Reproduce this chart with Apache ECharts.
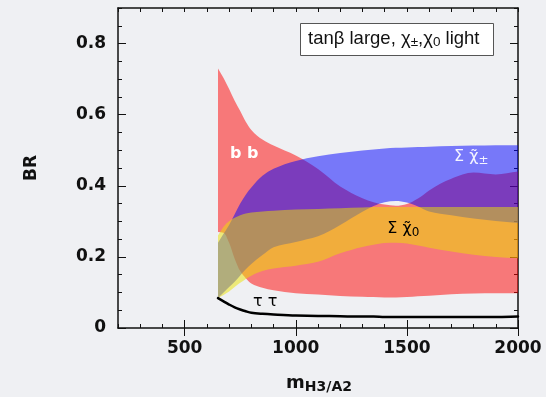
<!DOCTYPE html>
<html>
<head>
<meta charset="utf-8">
<script src="https://cdn.jsdelivr.net/npm/echarts@6/dist/echarts.min.js"></script>
<style>
  html, body { margin: 0; padding: 0; background: #eff0f3; }
  #chart { width: 546px; height: 397px; }
</style>
</head>
<body>
<div id="chart"></div>
<script>
// Heavy Higgs mass grid (GeV)
const masses = [650, 675, 700, 725, 750, 775, 800, 850, 900, 1000, 1100, 1200, 1300, 1350, 1400, 1450, 1500, 1550, 1600, 1700, 1800, 1900, 2000];

// BR(H3/A2 -> b b) band
const bbHigh = [0.73, 0.703, 0.672, 0.639, 0.61, 0.58, 0.557, 0.53, 0.513, 0.485, 0.447, 0.398, 0.365, 0.354, 0.347, 0.344, 0.349, 0.364, 0.387, 0.42, 0.437, 0.432, 0.44];
const bbLow = [0.27, 0.268, 0.24, 0.195, 0.16, 0.14, 0.125, 0.113, 0.106, 0.098, 0.094, 0.09, 0.088, 0.087, 0.086, 0.086, 0.087, 0.089, 0.091, 0.095, 0.097, 0.098, 0.098];

// Sum over chargino pairs
const charginoHigh = [0.24, 0.265, 0.29, 0.32, 0.35, 0.375, 0.395, 0.428, 0.448, 0.47, 0.483, 0.492, 0.499, 0.502, 0.505, 0.507, 0.508, 0.509, 0.51, 0.512, 0.513, 0.514, 0.514];
const charginoLow = [0.084, 0.10, 0.115, 0.13, 0.148, 0.165, 0.18, 0.205, 0.227, 0.242, 0.258, 0.29, 0.327, 0.343, 0.354, 0.357, 0.353, 0.342, 0.328, 0.317, 0.308, 0.301, 0.295];

// Sum over neutralino pairs
const neutralinoHigh = [0.26, 0.285, 0.30, 0.31, 0.317, 0.322, 0.325, 0.328, 0.33, 0.333, 0.335, 0.337, 0.339, 0.34, 0.34, 0.34, 0.34, 0.34, 0.34, 0.34, 0.34, 0.34, 0.34];
const neutralinoLow = [0.084, 0.093, 0.103, 0.115, 0.127, 0.138, 0.147, 0.16, 0.167, 0.175, 0.186, 0.21, 0.228, 0.234, 0.239, 0.24, 0.238, 0.232, 0.226, 0.215, 0.206, 0.20, 0.196];

// BR(H3/A2 -> tau tau)
const tautau = [0.084, 0.075, 0.066, 0.058, 0.052, 0.047, 0.043, 0.040, 0.038, 0.035, 0.034, 0.033, 0.032, 0.032, 0.031, 0.031, 0.031, 0.031, 0.031, 0.031, 0.031, 0.031, 0.032];

// Axis ticks
const xMajorTicks = [500, 1000, 1500, 2000];
const yMajorTicks = [0, 0.2, 0.4, 0.6, 0.8];

// Annotation anchors in data units [mass, BR]
const labelBB = [768, 0.49];
const labelTauTau = [862, 0.073];
const labelChargino = [1790, 0.478];
const labelNeutralino = [1484, 0.275];

const chart = echarts.init(document.getElementById('chart'), null, { renderer: 'canvas' });
const ink = '#111';
const frameLine = { color: ink, width: 1.5 };
const tickLine = { color: ink, width: 1 };
const tickFont = { fontFamily: 'DejaVu Sans', fontWeight: 'bold', fontSize: 17, color: ink,
                   formatter: v => String(v) };

// Monotone cubic (Fritsch-Carlson) segments through pixel points ordered by x
function monotoneSegments(p) {
  const n = p.length, d = [], s = [], t = [];
  for (let i = 0; i < n - 1; i++) {
    d[i] = p[i + 1][0] - p[i][0];
    s[i] = (p[i + 1][1] - p[i][1]) / d[i];
  }
  t[0] = s[0]; t[n - 1] = s[n - 2];
  for (let i = 1; i < n - 1; i++) {
    if (s[i - 1] * s[i] <= 0) t[i] = 0;
    else t[i] = 3 * (d[i - 1] + d[i]) / ((2 * d[i] + d[i - 1]) / s[i - 1] + (d[i] + 2 * d[i - 1]) / s[i]);
  }
  const segs = [];
  for (let i = 0; i < n - 1; i++) {
    segs.push({
      a: p[i], b: p[i + 1],
      c1: [p[i][0] + d[i] / 3, p[i][1] + t[i] * d[i] / 3],
      c2: [p[i + 1][0] - d[i] / 3, p[i + 1][1] - t[i + 1] * d[i] / 3]
    });
  }
  return segs;
}

function f(v) { return v.toFixed(2); }

function bandPath(top, bottom) {
  const up = monotoneSegments(top), lo = monotoneSegments(bottom);
  let path = 'M' + f(top[0][0]) + ' ' + f(top[0][1]);
  up.forEach(g => { path += ' C' + f(g.c1[0]) + ' ' + f(g.c1[1]) + ' ' + f(g.c2[0]) + ' ' + f(g.c2[1]) + ' ' + f(g.b[0]) + ' ' + f(g.b[1]); });
  const last = bottom[bottom.length - 1];
  path += ' L' + f(last[0]) + ' ' + f(last[1]);
  for (let i = lo.length - 1; i >= 0; i--) {
    const g = lo[i];
    path += ' C' + f(g.c2[0]) + ' ' + f(g.c2[1]) + ' ' + f(g.c1[0]) + ' ' + f(g.c1[1]) + ' ' + f(g.a[0]) + ' ' + f(g.a[1]);
  }
  return path + ' Z';
}

function linePath(pts) {
  const segs = monotoneSegments(pts);
  let path = 'M' + f(pts[0][0]) + ' ' + f(pts[0][1]);
  segs.forEach(g => { path += ' C' + f(g.c1[0]) + ' ' + f(g.c1[1]) + ' ' + f(g.c2[0]) + ' ' + f(g.c2[1]) + ' ' + f(g.b[0]) + ' ' + f(g.b[1]); });
  return path;
}

function bandSeries(name, lo, hi, color) {
  return {
    type: 'custom', name: name, coordinateSystem: 'cartesian2d', silent: true,
    data: [[masses[0], lo[0]]],
    renderItem: function (params, api) {
      const top = masses.map((m, i) => api.coord([m, hi[i]]));
      const bottom = masses.map((m, i) => api.coord([m, lo[i]]));
      return { type: 'path', shape: { pathData: bandPath(top, bottom) }, style: { fill: color, stroke: null } };
    }
  };
}

function curveSeries(name, vals, color, width) {
  return {
    type: 'custom', name: name, coordinateSystem: 'cartesian2d', silent: true,
    data: [[masses[0], vals[0]]],
    renderItem: function (params, api) {
      const pts = masses.map((m, i) => api.coord([m, vals[i]]));
      return { type: 'path', shape: { pathData: linePath(pts) },
               style: { fill: null, stroke: color, lineWidth: width, lineJoin: 'round', lineCap: 'round' } };
    }
  };
}

function xAxisPair(pos, withLabels) {
  return [
    { type: 'value', min: 200, max: 2000, interval: 100, position: pos,
      axisLine: { show: true, onZero: false, lineStyle: frameLine },
      axisTick: { show: true, inside: true, length: 4, lineStyle: tickLine },
      axisLabel: { show: false }, splitLine: { show: false } },
    { type: 'value', min: 200, max: 2000, position: pos,
      axisLine: { show: false },
      axisTick: { show: true, inside: true, length: 8, customValues: xMajorTicks, lineStyle: tickLine },
      axisLabel: Object.assign({ show: withLabels, customValues: xMajorTicks, margin: 12 }, tickFont),
      splitLine: { show: false } }
  ];
}

function yAxisPair(pos, withLabels) {
  return [
    { type: 'value', min: 0, max: 0.9, interval: 0.05, position: pos,
      axisLine: { show: true, onZero: false, lineStyle: frameLine },
      axisTick: { show: true, inside: true, length: 4, lineStyle: tickLine },
      axisLabel: { show: false }, splitLine: { show: false } },
    { type: 'value', min: 0, max: 0.9, position: pos,
      axisLine: { show: false },
      axisTick: { show: true, inside: true, length: 8, customValues: yMajorTicks, lineStyle: tickLine },
      axisLabel: Object.assign({ show: withLabels, customValues: yMajorTicks, margin: 12 }, tickFont),
      splitLine: { show: false } }
  ];
}

chart.setOption({
  animation: false,
  backgroundColor: '#eff0f3',
  grid: { left: 118, right: 28, top: 8, bottom: 69, containLabel: false },
  xAxis: [...xAxisPair('bottom', true), ...xAxisPair('top', false)],
  yAxis: [...yAxisPair('left', true), ...yAxisPair('right', false)],
  series: [
    bandSeries('b b', bbLow, bbHigh, 'rgba(255,0,0,0.5)'),
    bandSeries('chargino', charginoLow, charginoHigh, 'rgba(0,0,255,0.5)'),
    bandSeries('neutralino', neutralinoLow, neutralinoHigh, 'rgba(235,225,0,0.5)'),
    curveSeries('tau tau', tautau, '#000', 2.5)
  ]
});

function px(pt) { return chart.convertToPixel({ gridIndex: 0 }, pt); }

const pBB = px(labelBB), pTau = px(labelTauTau), pCh = px(labelChargino), pNe = px(labelNeutralino);

chart.setOption({
  graphic: [
    { type: 'text', z: 50, x: pBB[0], y: pBB[1], silent: true,
      style: { text: 'b b', fill: '#fff', font: 'bold 16px "DejaVu Sans"', align: 'center', verticalAlign: 'middle' } },
    { type: 'text', z: 50, x: pTau[0], y: pTau[1], silent: true,
      style: { text: 'τ τ', fill: '#000', font: '16px "DejaVu Sans"', align: 'center', verticalAlign: 'middle' } },
    { type: 'text', z: 50, x: pCh[0], y: pCh[1], silent: true,
      style: { text: '{a|Σ χ̃}{s|±}', align: 'center', verticalAlign: 'middle',
        rich: {
          a: { fill: '#f4f4ff', fontSize: 16, fontFamily: 'DejaVu Sans', lineHeight: 18, verticalAlign: 'top' },
          s: { fill: '#f4f4ff', fontSize: 12, fontFamily: 'DejaVu Sans', lineHeight: 9, verticalAlign: 'bottom' }
        } } },
    { type: 'text', z: 50, x: pNe[0], y: pNe[1], silent: true,
      style: { text: '{a|Σ χ̃}{s|0}', align: 'center', verticalAlign: 'middle',
        rich: {
          a: { fill: '#000', fontSize: 16, fontFamily: 'DejaVu Sans', lineHeight: 18, verticalAlign: 'top' },
          s: { fill: '#000', fontSize: 12, fontFamily: 'DejaVu Sans', lineHeight: 9, verticalAlign: 'bottom' }
        } } },
    // Scenario box
    { type: 'rect', z: 50, silent: true, shape: { x: 300.5, y: 23.5, width: 193, height: 32 },
      style: { fill: '#fff', stroke: '#555', lineWidth: 1 } },
    { type: 'text', z: 51, x: 308, y: 39, silent: true,
      style: { text: '{t|tanβ large, χ}{s|±}{t|,χ}{s|0}{t| light}', align: 'left', verticalAlign: 'middle',
        rich: {
          t: { fill: '#111', fontSize: 18.5, fontFamily: 'Liberation Sans', lineHeight: 20, verticalAlign: 'top' },
          s: { fill: '#111', fontSize: 13.5, fontFamily: 'Liberation Sans', lineHeight: 9, verticalAlign: 'bottom' }
        } } },
    // Axis titles
    { type: 'text', z: 50, x: 32, y: 168, rotation: Math.PI / 2, silent: true,
      style: { text: 'BR', fill: ink, font: 'bold 17px "DejaVu Sans"', align: 'center', verticalAlign: 'middle' } },
    { type: 'text', z: 50, x: 319, y: 384, silent: true,
      style: { text: '{m|m}{s|H3/A2}', align: 'center', verticalAlign: 'middle',
        rich: {
          m: { fill: ink, fontSize: 18, fontWeight: 'bold', fontFamily: 'DejaVu Sans', lineHeight: 20, verticalAlign: 'top' },
          s: { fill: ink, fontSize: 14, fontWeight: 'bold', fontFamily: 'DejaVu Sans', lineHeight: 12, verticalAlign: 'bottom' }
        } } }
  ]
});
</script>
</body>
</html>
